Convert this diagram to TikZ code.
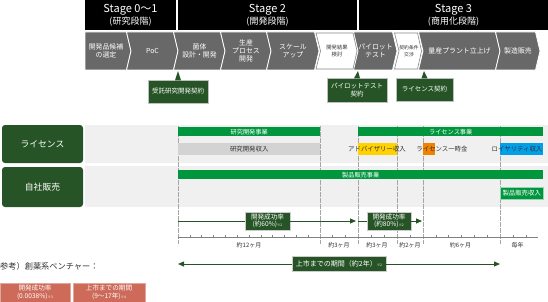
\documentclass[tikz,border=0pt]{standalone}
\usepackage{fontspec}
\setmainfont{Noto Sans CJK JP}
\usetikzlibrary{arrows.meta}
\definecolor{dgreen}{RGB}{38,84,38}
\definecolor{mgreen}{RGB}{0,150,62}
\definecolor{cgray}{RGB}{104,104,104}
\definecolor{lgray}{RGB}{240,240,240}
\definecolor{bgray}{RGB}{211,211,211}
\definecolor{cyellow}{RGB}{255,210,0}
\definecolor{corange}{RGB}{240,130,0}
\definecolor{cblue}{RGB}{0,160,233}
\definecolor{salmon}{RGB}{205,106,90}
\definecolor{dtext}{RGB}{51,51,51}
\newcommand{\refmark}[1]{{\fontsize{3.4}{4}\selectfont ※#1}}
\tikzset{
  stagebox/.style={fill=black, text=white, align=center, inner sep=0pt, minimum height=30pt, font=\fontsize{11}{12.5}\selectfont},
  chevg/.style={fill=cgray, draw=white, line width=0.8pt},
  chevw/.style={fill=white, draw=cgray!80, line width=0.6pt},
  chevtext/.style={text=white, align=center, inner sep=0pt, font=\fontsize{6.9}{7.8}\selectfont},
  callout/.style={fill=dgreen, draw=gray!50, line width=0.4pt, text=white, align=center, inner sep=0pt, font=\fontsize{6.5}{7.6}\selectfont},
  rowlabel/.style={fill=dgreen, rounded corners=3pt, text=white, minimum width=81pt, inner sep=0pt, font=\fontsize{8.8}{9}\selectfont},
  bizbar/.style={fill=mgreen, text=white, anchor=north west, minimum height=9pt, inner sep=0pt, font=\fontsize{6.2}{6.5}\selectfont},
  incbar/.style={anchor=north west, minimum height=12pt, inner sep=0pt, text=dtext, font=\fontsize{6.4}{6.5}\selectfont},
  inctext/.style={text=dtext, inner sep=0pt, font=\fontsize{6.4}{6.5}\selectfont},
  vline/.style={draw=gray!70, line width=0.5pt, dash pattern=on 5pt off 1pt},
  tlaxis/.style={draw=gray, line width=0.6pt},
  tllabel/.style={text=dtext, inner sep=0pt, font=\fontsize{6}{6.5}\selectfont},
  tlbox/.style={fill=dgreen, draw=gray!40, text=white, align=center, inner sep=0pt, font=\fontsize{6.6}{7.3}\selectfont},
  tlarrow/.style={draw=dgreen, line width=0.8pt, -{Triangle[length=6pt,width=5pt]}},
  refbox/.style={fill=salmon, draw=salmon!60, text=white, align=center, inner sep=0pt, minimum height=19pt, font=\fontsize{6.6}{7.4}\selectfont},
}
\begin{document}
\begin{tikzpicture}[x=1pt,y=-1pt]
\useasboundingbox (0,0) rectangle (548,302);
% stages
\node[stagebox, minimum width=91pt] (st1) at (130.5,15.5) {Stage 0～1\\{\fontsize{9}{12.5}\selectfont (研究段階)}};
\node[stagebox, minimum width=179pt] (st2) at (267.5,15.5) {Stage 2\\{\fontsize{9}{12.5}\selectfont (開発段階)}};
\node[stagebox, minimum width=189pt] (st3) at (453.5,15.5) {Stage 3\\{\fontsize{9}{12.5}\selectfont (商用化段階)}};
% process chevrons
\foreach \a/\b/\n/\t [count=\i] in {85/131/0/{開発品候補\\の選定}, 131/178/4.5/PoC, 178/225/4.5/{菌体\\設計・開発}, 225/271/4.5/{生産\\プロセス\\開発}, 271/319/4.5/{スケール\\アップ}, 358/397/4.5/{パイロット\\テスト}, 423/500/4.5/量産プラント立上げ, 500/540/4.5/製造販売}
{
  \draw[chevg] ({\a-\n},32) -- ({\b-4.5},32) -- (\b,51) -- ({\b-4.5},70) -- ({\a-\n},70) -- (\a,51) -- cycle;
  \node[chevtext] (c\i) at ({(\a+\b)/2-2},51) {\t};
}
\draw[chevw] (316,33) -- (353,33) -- (357,51) -- (353,69) -- (316,69) -- (320.5,51) -- cycle;
\draw[chevw] (394.5,33) -- (417.5,33) -- (421.5,51) -- (417.5,69) -- (394.5,69) -- (399,51) -- cycle;
\node[chevtext, text=dtext, font=\fontsize{5.3}{6.8}\selectfont] (w1) at (337,51) {開発結果\\検討};
\node[chevtext, text=dtext, font=\fontsize{4.8}{6.5}\selectfont] (w2) at (409,51) {契約条件\\交渉};
% contracts
\node[callout, minimum width=60pt, minimum height=23pt] (k1) at (178,91.5) {受託研究開発契約};
\node[callout, minimum width=60pt, minimum height=24pt] (k2) at (357,90) {パイロットテスト\\契約};
\node[callout, minimum width=57pt, minimum height=23pt] (k3) at (424.5,89.5) {ライセンス契約};
\coordinate (p1) at (178,71);
\coordinate (p2) at (358,71);
\coordinate (p3) at (424,71);
\foreach \k/\p in {k1/p1, k2/p2, k3/p3}
  \fill[dgreen] ([xshift=-3pt,yshift=-0.5pt]\k.north) -- (\p) -- ([xshift=3pt,yshift=-0.5pt]\k.north) -- cycle;
% business rows
\fill[lgray] (85,125) rectangle (548,163);
\fill[lgray] (85,166) rectangle (548,207);
\node[rowlabel, minimum height=38pt] (lic) at (42.5,144) {ライセンス};
\node[rowlabel, minimum height=40pt] (own) at (42.5,187) {自社販売};
\foreach \x in {178,320,358,397,423,500}
  \draw[vline] (\x,126) -- (\x,244);
\node[bizbar, minimum width=142pt] (rdbiz) at (178,127) {研究開発事業};
\node[bizbar, minimum width=185pt] (licbiz) at (358,127) {ライセンス事業};
\node[incbar, fill=bgray, minimum width=142pt] (rdinc) at (178,143) {研究開発収入};
\node[incbar, fill=cyellow, minimum width=39pt] (advbar) at (358,143) {};
\node[incbar, fill=corange, minimum width=12pt] (lumpbar) at (423,143) {};
\node[incbar, fill=cblue, minimum width=43pt] (roybar) at (500,143) {};
\node[inctext] (adv) at (377,149) {アドバイザリー収入};
\node[inctext] (lump) at (442,149) {ライセンス一時金};
\node[inctext] (roy) at (517,149) {ロイヤリティ収入};
\node[bizbar, minimum width=365pt] (prodbiz) at (178,170) {製品販売事業};
\node[incbar, fill=mgreen, draw=mgreen!40, text=white, minimum width=43pt] (prodinc) at (500,187) {製品販売収入};
% timeline
\draw[tlaxis] (178,237) -- (538,237);
\foreach \x in {189.8,201.7,213.5,225.3,237.2,249,260.8,272.7,284.5,296.3,308.2,332.7,345.3,371,384,410,435.8,448.7,461.5,474.3,487.2,513,526}
  \draw[tlaxis] (\x,234.5) -- (\x,237);
\node[tllabel] (m12) at (249,245) {約12ヶ月};
\node[tllabel] (m3a) at (339,245) {約3ヶ月};
\node[tllabel] (m3b) at (377,245) {約3ヶ月};
\node[tllabel] (m2) at (410,245) {約2ヶ月};
\node[tllabel] (m6) at (460.5,245) {約6ヶ月};
\node[tllabel] (yr) at (517.5,245) {毎年};
\coordinate (a1s) at (178,221);
\coordinate (a1e) at (356,221);
\coordinate (a2s) at (358,221);
\coordinate (a2e) at (422,221);
\coordinate (a3s) at (178,264);
\coordinate (a3e) at (500,264);
\node[tlbox, minimum width=45pt, minimum height=18pt] (sr1) at (267.5,221) {開発成功率\\(約60\%)\refmark{2}};
\node[tlbox, minimum width=44pt, minimum height=18pt] (sr2) at (389,221) {開発成功率\\(約80\%)\refmark{2}};
\node[tlbox, minimum width=94pt, minimum height=15pt, font=\fontsize{7}{7.3}\selectfont] (sr3) at (339,264) {上市までの期間（約2年）\refmark{2}};
\draw[tlarrow, -] (a1s) -- (sr1);
\draw[tlarrow] (sr1) -- (a1e);
\draw[tlarrow, -] (a2s) -- (sr2);
\draw[tlarrow] (sr2) -- (a2e);
\draw[tlarrow] (sr3) -- (a3s);
\draw[tlarrow] (sr3) -- (a3e);
% reference
\node[anchor=west, inner sep=0pt, text=dtext, font=\fontsize{8.2}{8.5}\selectfont] (ref) at (0,266) {参考）創薬系ベンチャー：};
\node[refbox, minimum width=70pt] (rb1) at (35,292.5) {開発成功率\\(0.0038\%)\refmark{3}};
\node[refbox, minimum width=72pt] (rb2) at (109,292.5) {上市までの期間\\(9～17年)\refmark{4}};
\end{tikzpicture}
\end{document}
